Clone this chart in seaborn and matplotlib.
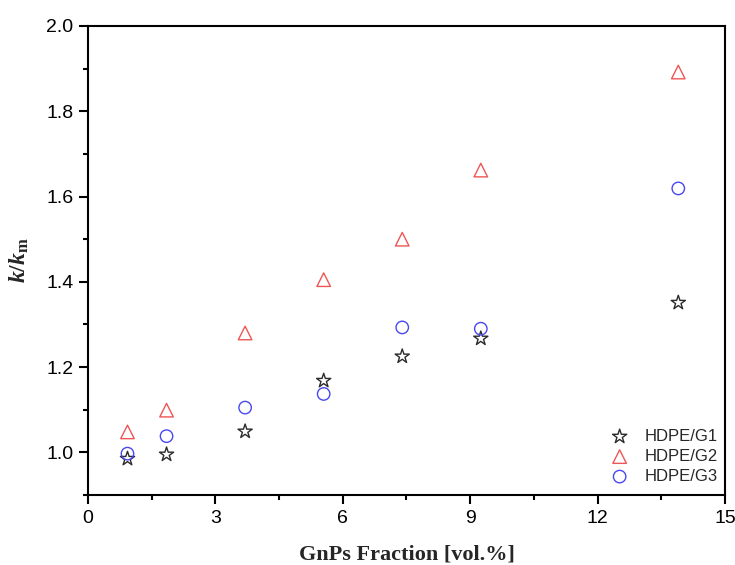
import matplotlib
matplotlib.use("Agg")
import matplotlib.pyplot as plt
from matplotlib.ticker import MultipleLocator, FormatStrFormatter
import seaborn as sns
import pandas as pd

# GnPs loading (vol.%) and relative thermal conductivity k/k_m
fraction = [0.93, 1.85, 3.70, 5.55, 7.40, 9.25, 13.90]
hdpe_g1 = [0.985, 0.995, 1.049, 1.168, 1.225, 1.267, 1.351]
hdpe_g2 = [1.048, 1.099, 1.280, 1.405, 1.500, 1.662, 1.892]
hdpe_g3 = [0.997, 1.038, 1.105, 1.137, 1.293, 1.290, 1.619]

series_names = ["HDPE/G1", "HDPE/G2", "HDPE/G3"]
series_values = [hdpe_g1, hdpe_g2, hdpe_g3]
markers = ["*", "^", "o"]
sizes = [115, 95, 80]
colors = ["#2b2b2b", "#f05555", "#4848f0"]

sns.set_theme(style="white")
plt.rcParams["font.family"] = ["Liberation Sans", "DejaVu Sans"]
plt.rcParams["mathtext.fontset"] = "custom"
plt.rcParams["mathtext.rm"] = "Liberation Serif:bold"
plt.rcParams["mathtext.bf"] = "Liberation Serif:bold"
plt.rcParams["mathtext.it"] = "Liberation Serif:bold:italic"

fig = plt.figure(figsize=(7.35, 5.65), dpi=100)
ax = fig.add_axes([0.1197, 0.1239, 0.8667, 0.8301])

for name, vals, mk, sz, col in zip(series_names, series_values, markers, sizes, colors):
    df = pd.DataFrame({"x": fraction, "y": vals})
    sns.scatterplot(data=df, x="x", y="y", marker=mk, s=sz,
                    facecolor="none", edgecolor=col, linewidth=1.0,
                    label=name, ax=ax, zorder=3)

ax.set_xlim(0, 15)
ax.set_ylim(0.9, 2.0)
ax.xaxis.set_major_locator(MultipleLocator(3))
ax.xaxis.set_minor_locator(MultipleLocator(1.5))
ax.set_yticks([1.0, 1.2, 1.4, 1.6, 1.8, 2.0])
ax.yaxis.set_minor_locator(MultipleLocator(0.1))
ax.yaxis.set_major_formatter(FormatStrFormatter("%.1f"))

for side in ax.spines.values():
    side.set_visible(True)
    side.set_color("black")
    side.set_linewidth(1.5)

ax.tick_params(axis="both", which="major", direction="out", length=6.5,
               width=1.5, color="black", labelsize=14, labelcolor="black",
               bottom=True, left=True, top=False, right=False, pad=4)
ax.tick_params(axis="both", which="minor", direction="out", length=3.5,
               width=1.5, color="black", bottom=True, left=True,
               top=False, right=False)

ax.set_xlabel("GnPs Fraction [vol.%]", fontsize=16, fontweight="bold",
              family="Liberation Serif", labelpad=13)
ax.set_ylabel(r"$\mathit{k/k}_{\mathbf{m}}$", fontsize=17, labelpad=11)

leg = ax.legend(loc="lower right", frameon=False, fontsize=12,
                handletextpad=0.5, borderaxespad=0.6, labelspacing=0.3,
                bbox_to_anchor=(1.015, -0.012))

fig.savefig("out.png", dpi=100)
